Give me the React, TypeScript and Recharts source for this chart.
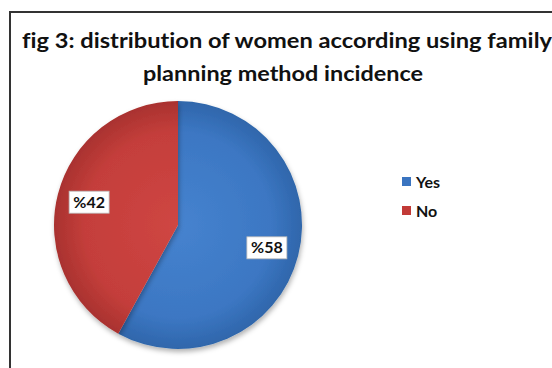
import React from "react";
import { PieChart, Pie, Cell, Legend, Customized } from "recharts";

const categories = ["Yes", "No"];
const values = [58, 42];
const labelTexts = ["%58", "%42"];
const titleLines = [
  "fig 3: distribution of women according using family",
  "planning method incidence",
];

const colors = ["url(#gBlue)", "url(#gRed)"];
const legendColors = ["#3a74c0", "#c23a37"];

const data = categories.map((name, i) => ({ name, value: values[i], label: labelTexts[i] }));

const RAD = Math.PI / 180;
const FONT = "Lato, 'Open Sans', sans-serif";
const noLig: React.CSSProperties = { fontVariantLigatures: "none", fontFeatureSettings: '"liga" 0, "clig" 0' };

const renderLabel = (props: any) => {
  const { cx, cy, midAngle, outerRadius, index } = props;
  const r = outerRadius * 0.74;
  const x = cx + r * Math.cos(-midAngle * RAD);
  const y = cy + r * Math.sin(-midAngle * RAD);
  const w = 40;
  const h = 22;
  return (
    <g>
      <rect x={x - w / 2} y={y - h / 2} width={w} height={h} fill="#ffffff" stroke="#bbbbbb" strokeWidth={0.8} />
      <text x={x} y={y + 5.5} textAnchor="middle" fontFamily={FONT} fontWeight={700} fontSize={16} fill="#111">
        {data[index].label}
      </text>
    </g>
  );
};

const renderLegend = () => {
  return (
    <div style={{ fontFamily: FONT }}>
      {categories.map((name, i) => (
        <div key={name} style={{ display: "flex", alignItems: "center", height: 29 }}>
          <span style={{ display: "inline-block", width: 9, height: 9, background: legendColors[i], marginRight: 5 }} />
          <span style={{ fontWeight: 700, fontSize: 16, color: "#111" }}>{name}</span>
        </div>
      ))}
    </div>
  );
};

const Title = () => (
  <g>
    <rect x={10} y={12} width={560} height={370} fill="none" stroke="#333" strokeWidth={2} />
    <text x={22} y={48} textLength={530} lengthAdjust="spacingAndGlyphs" fontFamily={FONT} fontWeight={700} fontSize={20} fill="#111" style={noLig}>
      {titleLines[0]}
    </text>
    <text x={143} y={81} textLength={280} lengthAdjust="spacingAndGlyphs" fontFamily={FONT} fontWeight={700} fontSize={20} fill="#111" style={noLig}>
      {titleLines[1]}
    </text>
  </g>
);

export default function App() {
  return (
    <div style={{ position: "absolute", left: 0, top: 0, width: 552, height: 368, background: "#fff", overflow: "hidden" }}>
      <svg width={0} height={0} style={{ position: "absolute" }}>
        <defs>
          <radialGradient id="gBlue" cx="178" cy="225" r="124" gradientUnits="userSpaceOnUse">
            <stop offset="0%" stopColor="#4683cf" />
            <stop offset="75%" stopColor="#3c77c3" />
            <stop offset="100%" stopColor="#2f66ab" />
          </radialGradient>
          <radialGradient id="gRed" cx="178" cy="225" r="124" gradientUnits="userSpaceOnUse">
            <stop offset="0%" stopColor="#cf4643" />
            <stop offset="75%" stopColor="#c43e3b" />
            <stop offset="100%" stopColor="#a9322f" />
          </radialGradient>
          <filter id="shadow" x="-20%" y="-20%" width="140%" height="140%">
            <feDropShadow dx="1" dy="3" stdDeviation="2.5" floodColor="#000" floodOpacity="0.3" />
          </filter>
        </defs>
      </svg>
      <PieChart width={552} height={368} margin={{ top: 0, right: 0, bottom: 0, left: 0 }}>
        <Customized component={Title} />
        <Pie
          data={data}
          dataKey="value"
          nameKey="name"
          cx={178}
          cy={225}
          outerRadius={124}
          startAngle={90}
          endAngle={-270}
          stroke="none"
          label={renderLabel}
          labelLine={false}
          isAnimationActive={false}
          style={{ filter: "url(#shadow)" }}
        >
          {data.map((d, i) => (
            <Cell key={d.name} fill={colors[i]} />
          ))}
        </Pie>
        <Legend
          layout="vertical"
          align="right"
          verticalAlign="top"
          content={renderLegend}
          wrapperStyle={{ left: 402, top: 167, width: 80 }}
        />
      </PieChart>
    </div>
  );
}
